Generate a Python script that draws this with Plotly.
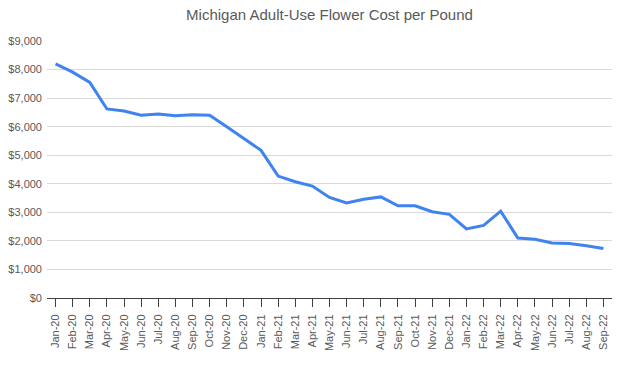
import plotly.graph_objects as go

months = ["Jan-20","Feb-20","Mar-20","Apr-20","May-20","Jun-20","Jul-20","Aug-20","Sep-20","Oct-20","Nov-20","Dec-20",
          "Jan-21","Feb-21","Mar-21","Apr-21","May-21","Jun-21","Jul-21","Aug-21","Sep-21","Oct-21","Nov-21","Dec-21",
          "Jan-22","Feb-22","Mar-22","Apr-22","May-22","Jun-22","Jul-22","Aug-22","Sep-22"]
cost = [8200, 7910, 7550, 6620, 6550, 6400, 6440, 6380, 6420, 6400, 6000, 5600,
        5170, 4270, 4070, 3920, 3520, 3330, 3460, 3540, 3230, 3230, 3020, 2930,
        2420, 2540, 3040, 2100, 2060, 1930, 1910, 1830, 1730]
yticks = list(range(0, 9001, 1000))
yticklabels = ["$" + format(v, ",") for v in yticks]

fig = go.Figure(go.Scatter(x=months, y=cost, mode="lines",
                           line=dict(color="#3E83F0", width=3)))
fig.update_layout(
    width=621, height=366,
    margin=dict(l=47, r=9, t=41, b=68, autoexpand=False),
    paper_bgcolor="white", plot_bgcolor="white",
    title=dict(text="Michigan Adult-Use Flower Cost per Pound", x=0.5, xanchor="center",
               xref="paper", y=1 - 15/366, yanchor="middle",
               font=dict(family="Liberation Sans, Arial", size=15, color="#595959")),
    showlegend=False,
    font=dict(family="Liberation Sans, Arial", size=11, color="#595959"),
)
fig.update_xaxes(type="category", range=[-0.5, len(months) - 0.5], showgrid=False,
                 automargin=False,
                 showline=True, linecolor="#404040", linewidth=1,
                 ticks="outside", ticklen=8, tickcolor="#404040",
                 ticklabelstandoff=3,
                 tickangle=-90, tickfont=dict(size=11, color="#595959"))
fig.update_yaxes(range=[0, 9000], tickvals=yticks, ticktext=yticklabels,
                 automargin=False,
                 showgrid=True, gridcolor="#D9D9D9", gridwidth=1, zeroline=False,
                 showline=False, ticks="", ticklabelstandoff=4,
                 tickfont=dict(size=11, color="#595959"))
fig.write_html("out.html", config={"displayModeBar": False, "staticPlot": True})

with open("out.html", "r", encoding="utf-8") as f:
    html = f.read()
html = html.replace("<body>", '<body style="margin:0;padding:0;overflow:hidden">', 1)
with open("out.html", "w", encoding="utf-8") as f:
    f.write(html)
